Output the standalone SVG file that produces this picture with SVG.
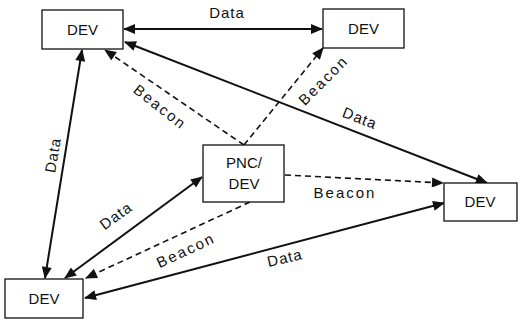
<svg xmlns="http://www.w3.org/2000/svg" width="520" height="322" viewBox="0 0 520 322">
  <style>
    .box { fill: #fff; stroke: #111; stroke-width: 1.3; }
    .lbl { font-family: "Liberation Sans", Arial, sans-serif; font-size: 15px; fill: #111; text-anchor: middle; }
    .tag { letter-spacing: 1px; }
    .bcn { letter-spacing: 2px; }
    .data { stroke: #111; stroke-width: 2; fill: none; }
    .beacon { stroke: #111; stroke-width: 1.6; fill: none; stroke-dasharray: 6 4; }
  </style>
  <defs>
    <marker id="arrow" viewBox="0 0 12 10" refX="11" refY="5" markerWidth="13" markerHeight="10" markerUnits="userSpaceOnUse" orient="auto-start-reverse">
      <path d="M0,0 L12,5 L0,10 Z" fill="#111"/>
    </marker>
  </defs>
  <rect width="520" height="322" fill="#fff"/>

  <g id="connectors">
    <!-- data links (solid, two-way) -->
    <line class="data" x1="124" y1="29" x2="322" y2="29" marker-start="url(#arrow)" marker-end="url(#arrow)"/>
    <line class="data" x1="125" y1="42" x2="487" y2="183" marker-start="url(#arrow)" marker-end="url(#arrow)"/>
    <line class="data" x1="82" y1="50" x2="45" y2="278" marker-start="url(#arrow)" marker-end="url(#arrow)"/>
    <line class="data" x1="202" y1="177" x2="65" y2="278" marker-start="url(#arrow)" marker-end="url(#arrow)"/>
    <line class="data" x1="85" y1="298" x2="444" y2="203" marker-start="url(#arrow)" marker-end="url(#arrow)"/>
    <!-- beacons from the coordinator (dashed, one-way) -->
    <line class="beacon" x1="244" y1="145" x2="105" y2="50" marker-end="url(#arrow)"/>
    <line class="beacon" x1="244" y1="145" x2="323" y2="48" marker-end="url(#arrow)"/>
    <line class="beacon" x1="285" y1="175" x2="443" y2="183" marker-end="url(#arrow)"/>
    <line class="beacon" x1="250" y1="202" x2="86" y2="278" marker-end="url(#arrow)"/>

    <!-- link labels -->
    <text class="lbl tag" x="227" y="18">Data</text>
    <text class="lbl tag" transform="translate(358,123) rotate(21)">Data</text>
    <text class="lbl tag" transform="translate(58,156) rotate(-80)">Data</text>
    <text class="lbl tag" transform="translate(119,220) rotate(-36)">Data</text>
    <text class="lbl tag" transform="translate(286,263) rotate(-13)">Data</text>
    <text class="lbl bcn" transform="translate(157,111) rotate(38)">Beacon</text>
    <text class="lbl bcn" transform="translate(327,84) rotate(-45)">Beacon</text>
    <text class="lbl bcn" x="345" y="198">Beacon</text>
    <text class="lbl bcn" transform="translate(188,255) rotate(-25)">Beacon</text>
  </g>

  <g id="dev-top-left">
    <rect class="box" x="42" y="10" width="81" height="39"/>
    <text class="lbl" x="82.5" y="35">DEV</text>
  </g>
  <g id="dev-top-right">
    <rect class="box" x="323" y="9" width="81" height="39"/>
    <text class="lbl" x="363.5" y="34">DEV</text>
  </g>
  <g id="pnc-dev">
    <rect class="box" x="203" y="145" width="81" height="57"/>
    <text class="lbl" x="244" y="168">PNC/</text>
    <text class="lbl" x="244" y="189">DEV</text>
  </g>
  <g id="dev-right">
    <rect class="box" x="444" y="183" width="73" height="38"/>
    <text class="lbl" x="480" y="207">DEV</text>
  </g>
  <g id="dev-bottom-left">
    <rect class="box" x="5" y="279" width="78" height="39"/>
    <text class="lbl" x="44" y="304">DEV</text>
  </g>
</svg>
